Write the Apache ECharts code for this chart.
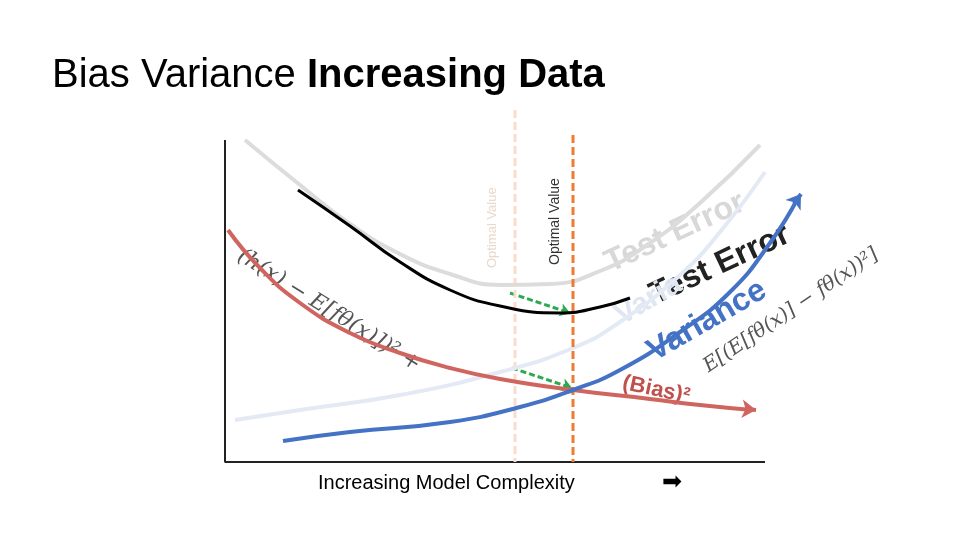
<!DOCTYPE html>
<html><head><meta charset="utf-8">
<script src="https://cdn.jsdelivr.net/npm/echarts@6/dist/echarts.min.js"></script>
<style>html,body{margin:0;background:#fff}#c{width:960px;height:540px}</style>
</head><body><div id="c"></div>
<script>
// curves, in picture units (x right, y down)
var oldTestErr = [[245,140],[300,185],[350,224],[400,254],[450,274],[500,285],[550,284],[600,271],[650,243],[700,203],[760,145]];
var newTestErr = [[298,190],[350,226],[400,262],[450,290],[500,306],[560,313],[600,307],[630,298]];
var bias = [[228,230],[260,268],[300,303],[350,333],[400,353],[450,368],[500,379],[573,390],[650,399],[700,405],[752,410]];
var oldVariance = [[235,420],[300,410],[400,395],[500,372],[573,348],[620,322],[680,275],[720,232],[765,172]];
var variance = [[283,441],[350,432],[450,422],[520,407],[573,390],[620,370],[680,332],[730,292],[770,243],[798,198]];
var axisPts = [[225,140],[225,462],[765,462]];
var optimalNew = [[573,135],[573,462]];
var optimalOld = [[515,110],[515,462]];
var shiftArrows = [[[510,293],[570,313]], [[512,368],[572,388]]];
var tipArrows = [[[745,409],[756,410]], [[794,204],[801,194]]];

var chart = echarts.init(document.getElementById('c'));
function line(data, color, width, dash) {
  return {type: 'line', data: data, smooth: true, showSymbol: false, symbol: 'none', silent: true,
    lineStyle: {color: color, width: width, type: dash || 'solid'}};
}
var series = [
  Object.assign(line(axisPts, '#222', 2), {smooth: false}),
  Object.assign(line(optimalOld, '#fbdccb', 3, [8, 4]), {smooth: false}),
  line(oldTestErr, '#dcdcdc', 4),
  line(oldVariance, '#e3eaf5', 4),
  Object.assign(line(optimalNew, '#ec7d31', 3, [8, 4]), {smooth: false}),
  line(newTestErr, '#000', 3),
  line(bias, '#d06560', 4),
  line(variance, '#4472c4', 4),
  {type: 'lines', coordinateSystem: 'cartesian2d', silent: true, symbol: ['none', 'arrow'], symbolSize: 10,
    data: shiftArrows.map(function (c) { return {coords: c}; }),
    lineStyle: {color: '#2fa84f', width: 3, type: [6, 3], opacity: 1}},
  {type: 'lines', coordinateSystem: 'cartesian2d', silent: true, symbol: ['none', 'arrow'], symbolSize: 14,
    data: [{coords: tipArrows[0], lineStyle: {color: '#d06560'}}, {coords: tipArrows[1], lineStyle: {color: '#4472c4'}}],
    lineStyle: {width: 4, opacity: 1}}
];
function txt(x, y, text, size, color, rot, extra) {
  return {type: 'text', x: x, y: y, rotation: (rot || 0) * Math.PI / 180,
    style: Object.assign({text: text, fontSize: size, fill: color, fontFamily: 'Arial'}, extra || {})};
}
chart.setOption({
  animation: false,
  grid: {left: 0, right: 0, top: 0, bottom: 0},
  xAxis: {type: 'value', min: 0, max: 960, show: false},
  yAxis: {type: 'value', min: 0, max: 540, inverse: true, show: false},
  series: series,
  graphic: [
    {type: 'text', x: 52, y: 56, style: {rich: {a: {fontSize: 40, fontFamily: 'Arial', fill: '#000'}, b: {fontSize: 40, fontFamily: 'Arial', fontWeight: 'bold', fill: '#000'}},
      text: '{a|Bias Variance }{b|Increasing Data}'}},
    txt(486, 268, 'Optimal Value', 13, '#e9d8cc', 90),
    txt(548, 265, 'Optimal Value', 14, '#333', 90),
    txt(600, 250, 'Test Error', 32, '#d8d8d8', 25, {fontWeight: 'bold'}),
    txt(645, 282, 'Test Error', 32, '#222', 25, {fontWeight: 'bold'}),
    txt(610, 305, 'Varia', 30, '#dfe6f2', 30, {fontWeight: 'bold'}),
    txt(642, 340, 'Variance', 32, '#4472c4', 30, {fontWeight: 'bold'}),
    txt(625, 372, '(Bias)²', 22, '#c0504d', -12, {fontWeight: 'bold'}),
    txt(245, 245, '(h(x) − E[fθ(x)])² +', 22, '#555', -32, {fontStyle: 'italic', fontFamily: 'DejaVu Serif'}),
    txt(700, 360, 'E[(E[fθ(x)] − fθ(x))²]', 20, '#555', 34, {fontStyle: 'italic', fontFamily: 'DejaVu Serif'}),
    txt(318, 473, 'Increasing Model Complexity', 20, '#000'),
    txt(662, 470, '➡', 24, '#000')
  ]
});
</script></body></html>
